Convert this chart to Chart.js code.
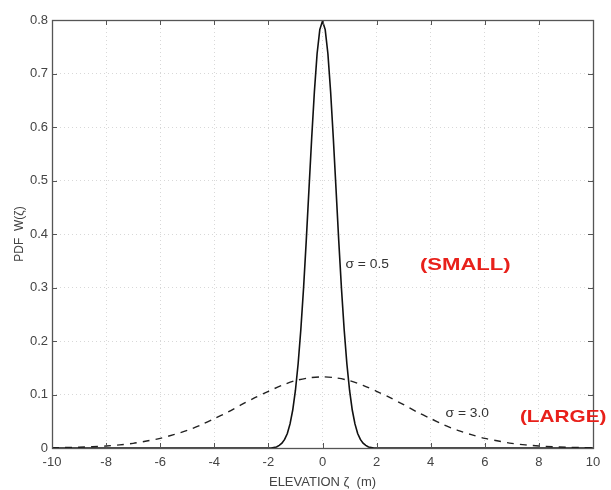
<!DOCTYPE html>
<html>
<head>
<meta charset="utf-8">
<script src="https://cdn.jsdelivr.net/npm/chart.js@4/dist/chart.umd.min.js"></script>
<style>
  html, body { margin: 0; padding: 0; background: #fff; }
  #wrap { width: 611px; height: 490px; position: relative; }
</style>
</head>
<body>
<div id="wrap"><canvas id="c" width="611" height="490"></canvas></div>
<script>
// ---- data ----
const smallX = [-10, -2.0, -1.9, -1.8, -1.7, -1.6, -1.5, -1.4, -1.3, -1.2, -1.1, -1.0, -0.9, -0.8, -0.7, -0.6, -0.5, -0.4, -0.3, -0.2, -0.1, 0.0,
                0.1, 0.2, 0.3, 0.4, 0.5, 0.6, 0.7, 0.8, 0.9, 1.0, 1.1, 1.2, 1.3, 1.4, 1.5, 1.6, 1.7, 1.8, 1.9, 2.0, 10];
const smallY = [0, 0, 0.000, 0.001, 0.002, 0.005, 0.009, 0.016, 0.027, 0.045, 0.071, 0.108, 0.158, 0.222, 0.299, 0.388, 0.484, 0.579, 0.666, 0.737, 0.782, 0.798,
                0.782, 0.737, 0.666, 0.579, 0.484, 0.388, 0.299, 0.222, 0.158, 0.108, 0.071, 0.045, 0.027, 0.016, 0.009, 0.005, 0.002, 0.001, 0.000, 0, 0];
const largeX = [-10, -9.5, -9, -8.5, -8, -7.5, -7, -6.5, -6, -5.5, -5, -4.5, -4, -3.5, -3, -2.5, -2, -1.5, -1, -0.5, 0,
                0.5, 1, 1.5, 2, 2.5, 3, 3.5, 4, 4.5, 5, 5.5, 6, 6.5, 7, 7.5, 8, 8.5, 9, 9.5, 10];
const largeY = [0.0005, 0.0009, 0.0015, 0.0024, 0.0038, 0.0058, 0.0087, 0.013, 0.018, 0.025, 0.033, 0.043, 0.055, 0.067, 0.081, 0.094, 0.106, 0.117, 0.126, 0.131, 0.133,
                0.131, 0.126, 0.117, 0.106, 0.094, 0.081, 0.067, 0.055, 0.043, 0.033, 0.025, 0.018, 0.013, 0.0087, 0.0058, 0.0038, 0.0024, 0.0015, 0.0009, 0.0005];
const xTicks = [-10, -8, -6, -4, -2, 0, 2, 4, 6, 8, 10];
const yTicks = [0, 0.1, 0.2, 0.3, 0.4, 0.5, 0.6, 0.7, 0.8];
const annotations = [
  { x: 0.85, y: 0.342, text: 'σ = 0.5', font: '12px "Liberation Sans", Arial, sans-serif', color: '#333', sx: 1.15 },
  { x: 3.6, y: 0.342, text: '(SMALL)', font: 'bold 17px "Liberation Sans", Arial, sans-serif', color: '#e8201a', sx: 1.3 },
  { x: 4.55, y: 0.064, text: 'σ = 3.0', font: '12px "Liberation Sans", Arial, sans-serif', color: '#333', sx: 1.15 },
  { x: 7.3, y: 0.058, text: '(LARGE)', font: 'bold 17px "Liberation Sans", Arial, sans-serif', color: '#e8201a', sx: 1.22 }
];

const toPts = (xs, ys) => xs.map((x, i) => ({ x: x, y: ys[i] }));
const FONT = '"Liberation Sans", Arial, sans-serif';
const TXT = '#444';

const framePlugin = {
  id: 'frame',
  afterDatasetsDraw(chart) {
    const { ctx, chartArea: a, scales } = chart;
    ctx.save();
    ctx.strokeStyle = '#555';
    ctx.lineWidth = 1;
    const tl = 5;
    ctx.beginPath();
    xTicks.forEach(v => {
      const px = Math.round(scales.x.getPixelForValue(v)) + 0.5;
      ctx.moveTo(px, a.bottom); ctx.lineTo(px, a.bottom - tl);
      ctx.moveTo(px, a.top); ctx.lineTo(px, a.top + tl);
    });
    yTicks.forEach(v => {
      const py = Math.round(scales.y.getPixelForValue(v)) + 0.5;
      ctx.moveTo(a.left, py); ctx.lineTo(a.left + tl, py);
      ctx.moveTo(a.right, py); ctx.lineTo(a.right - tl, py);
    });
    ctx.stroke();
    ctx.lineWidth = 1.3;
    ctx.strokeRect(Math.round(a.left) + 0.5, Math.round(a.top) + 0.5, Math.round(a.right - a.left), Math.round(a.bottom - a.top));
    ctx.restore();
  },
  afterDraw(chart) {
    const { ctx, scales } = chart;
    annotations.forEach(an => {
      ctx.save();
      ctx.textBaseline = 'middle';
      ctx.textAlign = 'left';
      ctx.font = an.font;
      ctx.fillStyle = an.color;
      ctx.translate(scales.x.getPixelForValue(an.x), scales.y.getPixelForValue(an.y));
      ctx.scale(an.sx, 1);
      ctx.fillText(an.text, 0, 0);
      ctx.restore();
    });
  }
};

new Chart(document.getElementById('c'), {
  type: 'scatter',
  data: {
    datasets: [
      { label: 'σ = 0.5', data: toPts(smallX, smallY), showLine: true, borderColor: '#111', borderWidth: 1.6,
        pointRadius: 0, tension: 0, fill: false },
      { label: 'σ = 3.0', data: toPts(largeX, largeY), showLine: true, borderColor: '#222', borderWidth: 1.4,
        borderDash: [7, 6], pointRadius: 0, tension: 0.3, fill: false }
    ]
  },
  options: {
    responsive: false,
    animation: false,
    layout: { padding: { top: 20, right: 18, left: 0, bottom: 0 } },
    plugins: { legend: { display: false }, tooltip: { enabled: false } },
    scales: {
      x: {
        type: 'linear', min: -10, max: 10,
        afterBuildTicks: s => { s.ticks = xTicks.map(v => ({ value: v })); },
        afterFit: s => { s.height = 42; },
        ticks: { color: TXT, font: { family: FONT, size: 13 }, padding: 7, maxRotation: 0,
                 callback: v => String(v) },
        grid: { color: '#d8d8d8', tickLength: 0, drawTicks: false },
        border: { display: false, dash: [1, 3] },
        title: { display: true, text: 'ELEVATION ζ  (m)', color: TXT, font: { family: FONT, size: 13 }, padding: { top: 3, bottom: 0 } }
      },
      y: {
        type: 'linear', min: 0, max: 0.8,
        afterBuildTicks: s => { s.ticks = yTicks.map(v => ({ value: v })); },
        afterFit: s => { s.width = 52; },
        ticks: { color: TXT, font: { family: FONT, size: 13 }, padding: 4,
                 callback: v => (v === 0 ? '0' : v.toFixed(1)) },
        grid: { color: '#d8d8d8', tickLength: 0, drawTicks: false },
        border: { display: false, dash: [1, 3] },
        title: { display: true, text: 'PDF  W(ζ)', color: TXT, font: { family: FONT, size: 12 }, padding: { top: 12, bottom: 2 } }
      }
    }
  },
  plugins: [framePlugin]
});
</script>
</body>
</html>
